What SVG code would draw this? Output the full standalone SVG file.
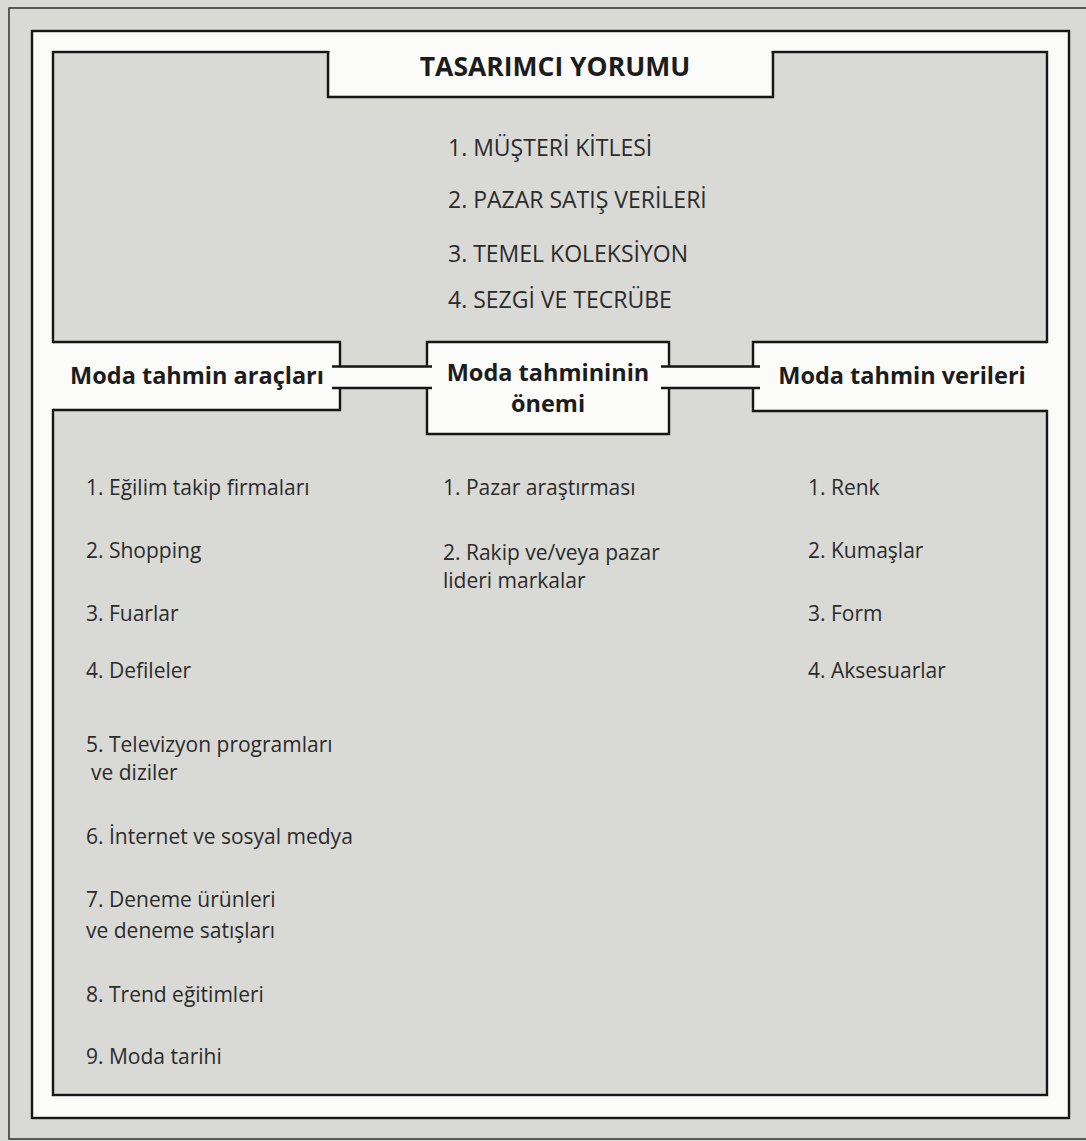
<svg xmlns="http://www.w3.org/2000/svg" width="1086" height="1141" viewBox="0 0 1086 1141">
<style>
.bg{fill:#d9d9d5}
.white{fill:#fbfbfa}
.edge{fill:none;stroke:#161616;stroke-width:2.4;stroke-linejoin:miter}
.item{font-family:"Open Sans","Liberation Sans",sans-serif;font-size:21px;fill:#2b2b2b}
.top{font-size:23px}
.head{font-family:"Open Sans","Liberation Sans",sans-serif;font-size:23.5px;font-weight:bold;fill:#1c1c1c}
.title{font-size:26.5px}
</style>
<rect class="bg" x="0" y="0" width="1086" height="1141"/>
<rect x="9" y="8" width="1100" height="1131" fill="none" stroke="#3a3a3a" stroke-width="1.6"/>
<rect class="white" x="32" y="31" width="1037" height="1087" stroke="#161616" stroke-width="2.4"/>
<rect class="bg" x="53" y="52" width="994" height="1043" stroke="#161616" stroke-width="2.4"/>

<g id="tasarimci-yorumu">
  <rect class="white" x="329.5" y="49" width="442" height="46.8"/>
  <path class="edge" d="M328,52 V97 H773 V52"/>
  <text class="head title" x="555" y="76" text-anchor="middle">TASARIMCI YORUMU</text>
  <text class="item top" x="448" y="156">1. MÜŞTERİ KİTLESİ</text>
  <text class="item top" x="448" y="208">2. PAZAR SATIŞ VERİLERİ</text>
  <text class="item top" x="448" y="262">3. TEMEL KOLEKSİYON</text>
  <text class="item top" x="448" y="308">4. SEZGİ VE TECRÜBE</text>
</g>

<g id="moda-tahmin-araclari">
  <rect class="white" x="50" y="343.2" width="288.8" height="65.6"/>
  <path class="edge" d="M53,342 H340 V366.5 M340,388 V410 H53"/>
  <text class="head" x="197" y="384" text-anchor="middle">Moda tahmin araçları</text>
  <text class="item" x="86" y="495">1. Eğilim takip firmaları</text>
  <text class="item" x="86" y="558">2. Shopping</text>
  <text class="item" x="86" y="621">3. Fuarlar</text>
  <text class="item" x="86" y="678">4. Defileler</text>
  <text class="item" x="86" y="752">5. Televizyon programları</text>
  <text class="item" x="91" y="780">ve diziler</text>
  <text class="item" x="86" y="844">6. İnternet ve sosyal medya</text>
  <text class="item" x="86" y="907">7. Deneme ürünleri</text>
  <text class="item" x="86" y="938">ve deneme satışları</text>
  <text class="item" x="86" y="1002">8. Trend eğitimleri</text>
  <text class="item" x="86" y="1064">9. Moda tarihi</text>
</g>

<g id="moda-tahmininin-onemi">
  <rect class="white" x="427" y="342" width="242" height="92"/>
  <path class="edge" d="M427,366.5 V342 H669 V366.5 M669,388 V434 H427 V388"/>
  <text class="head" x="548" y="381" text-anchor="middle">Moda tahmininin</text>
  <text class="head" x="548" y="412" text-anchor="middle">önemi</text>
  <text class="item" x="443" y="495">1. Pazar araştırması</text>
  <text class="item" x="443" y="560">2. Rakip ve/veya pazar</text>
  <text class="item" x="443" y="588">lideri markalar</text>
</g>

<g id="moda-tahmin-verileri">
  <rect class="white" x="754.2" y="343.2" width="295" height="66.6"/>
  <path class="edge" d="M1047,342 H753 V366.5 M753,388 V411 H1047"/>
  <text class="head" x="902" y="384" text-anchor="middle">Moda tahmin verileri</text>
  <text class="item" x="808" y="495">1. Renk</text>
  <text class="item" x="808" y="558">2. Kumaşlar</text>
  <text class="item" x="808" y="621">3. Form</text>
  <text class="item" x="808" y="678">4. Aksesuarlar</text>
</g>

<g id="connectors">
  <rect class="white" x="332" y="367.7" width="100" height="19.1"/>
  <path class="edge" d="M332,366.5 H432 M332,388 H432"/>
  <rect class="white" x="661" y="367.7" width="99" height="19.1"/>
  <path class="edge" d="M661,366.5 H760 M661,388 H760"/>
</g>
</svg>
